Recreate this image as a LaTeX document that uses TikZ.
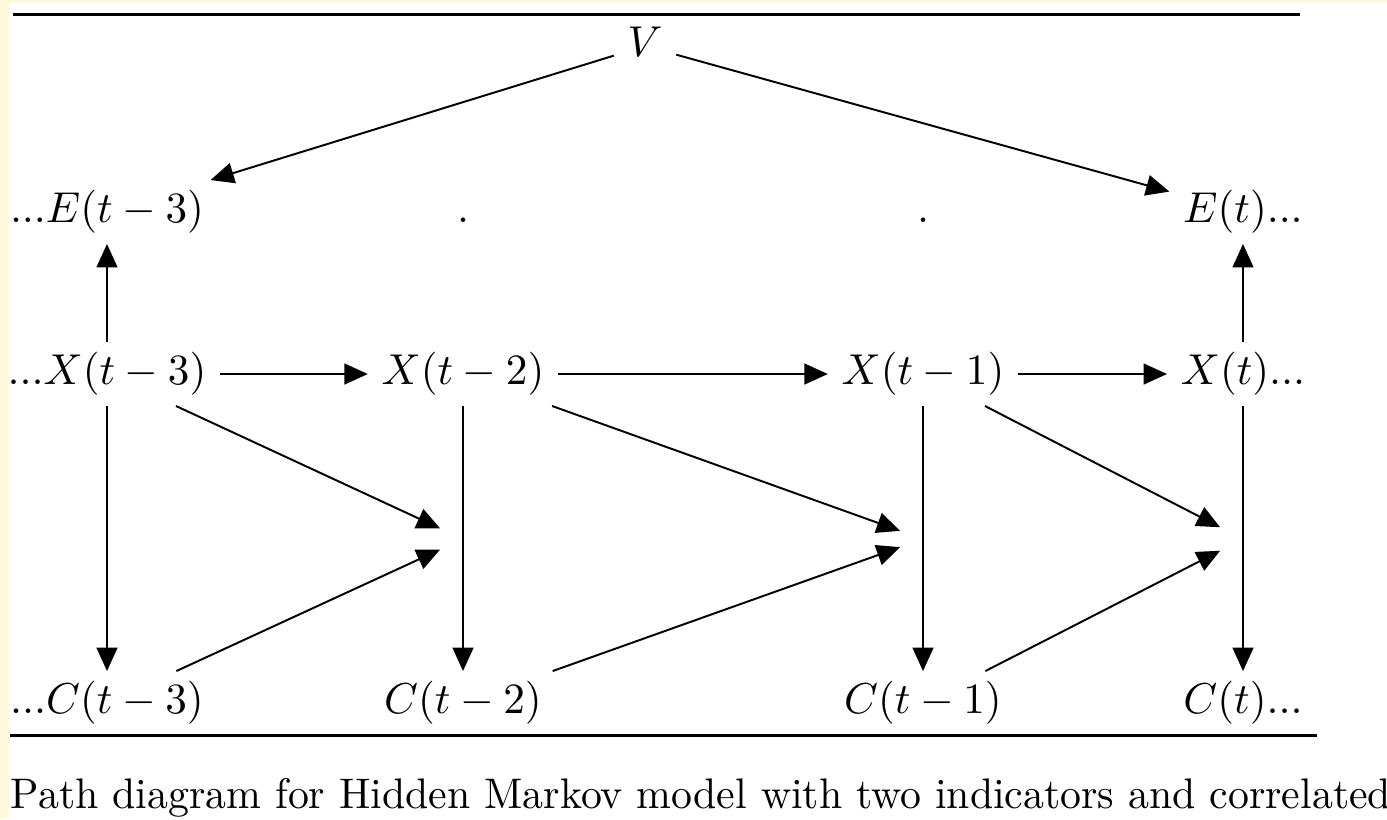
\documentclass[tikz,border=0pt]{standalone}
\usetikzlibrary{arrows.meta}
\definecolor{pagebg}{RGB}{255,248,220}
\begin{document}
\begin{tikzpicture}[x=0.2315pt,y=-0.2315pt,
  lbl/.style={inner xsep=3pt, inner ysep=2.2pt, text height=7.5pt, text depth=2.5pt},
  hub/.style={inner sep=0pt, minimum width=10.2pt, minimum height=7pt},
  arr/.style={line width=0.45pt, -{Triangle[length=5.4pt,width=4.8pt]}},
  rulestyle/.style={line width=0.7pt}]
\useasboundingbox (0,0) rectangle (1387,819);
\clip (0,0) rectangle (1387,819);
\fill[pagebg] (0,0) rectangle (1387,819);
\fill[white] (9,3) rectangle (1387,819);
% rules
\coordinate (r1a) at (13,14);
\coordinate (r1b) at (1300,14);
\coordinate (r2a) at (10,735);
\coordinate (r2b) at (1317,735);
\draw[rulestyle] (r1a) -- (r1b);
\draw[rulestyle] (r2a) -- (r2b);
% nodes
\node[lbl] (V) at (645,46) {$V$};
\node[lbl] (E0) at (107,212) {$...E(t-3)$};
\node[lbl] (D1) at (463,212) {$.$};
\node[lbl] (D2) at (923,212) {$.$};
\node[lbl] (E3) at (1243,212) {$E(t)...$};
\node[lbl] (X0) at (107,374) {$...X(t-3)$};
\node[lbl] (X1) at (463,374) {$X(t-2)$};
\node[lbl] (X2) at (923,374) {$X(t-1)$};
\node[lbl] (X3) at (1243,374) {$X(t)...$};
\node[hub] (M1) at (463,539) {};
\node[hub] (M2) at (923,539) {};
\node[hub] (M3) at (1243,539) {};
\node[lbl] (C0) at (107,703) {$...C(t-3)$};
\node[lbl] (C1) at (463,703) {$C(t-2)$};
\node[lbl] (C2) at (923,703) {$C(t-1)$};
\node[lbl] (C3) at (1243,703) {$C(t)...$};
% connectors
\draw[arr] (V) -- (E0);
\draw[arr] (V) -- (E3);
\draw[arr] (X0) -- (E0);
\draw[arr] (X3) -- (E3);
\draw[arr] (X0) -- (X1);
\draw[arr] (X1) -- (X2);
\draw[arr] (X2) -- (X3);
\draw[arr] (X0) -- (C0);
\draw[arr] (X1) -- (C1);
\draw[arr] (X2) -- (C2);
\draw[arr] (X3) -- (C3);
\draw[arr] (X0) -- (M1);
\draw[arr] (C0) -- (M1);
\draw[arr] (X1) -- (M2);
\draw[arr] (C1) -- (M2);
\draw[arr] (X2) -- (M3);
\draw[arr] (C2) -- (M3);
% caption
\node[anchor=base west, inner sep=0pt, xscale=0.968, yscale=0.99] (cap) at (10,808) {Path diagram for Hidden Markov model with two indicators and correlated};
\end{tikzpicture}
\end{document}
